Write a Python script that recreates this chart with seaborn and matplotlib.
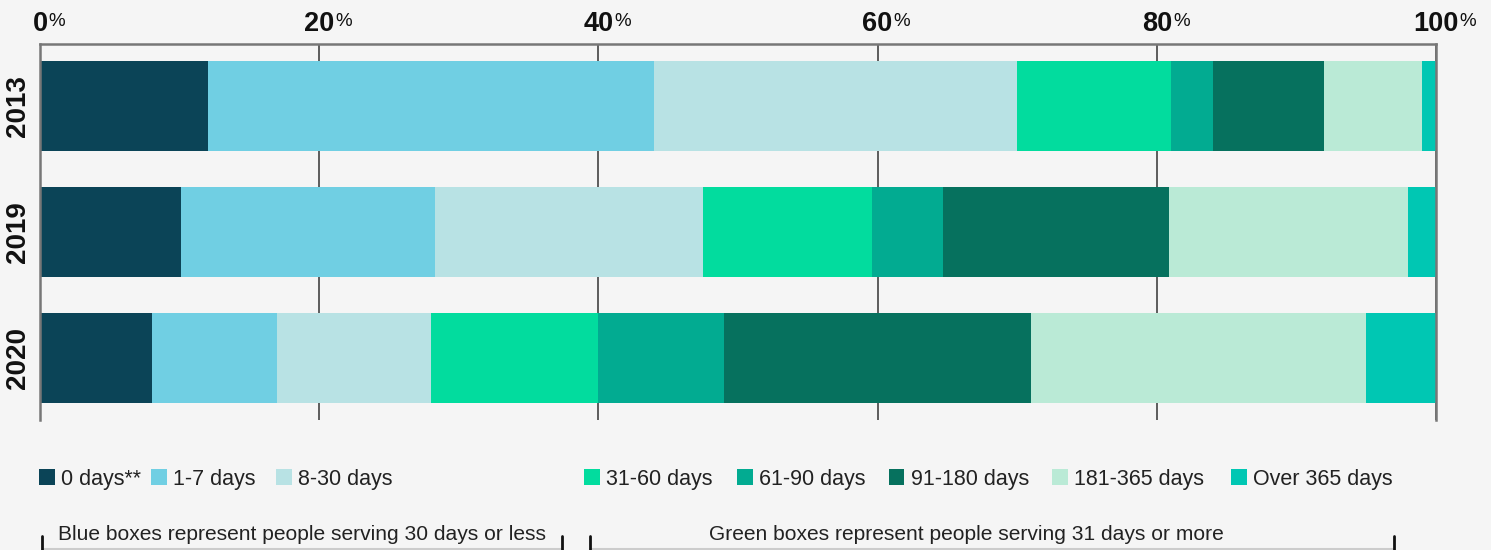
import matplotlib
matplotlib.use("Agg")
import matplotlib.pyplot as plt
from matplotlib.patches import Patch
from matplotlib.lines import Line2D
import numpy as np
import seaborn as sns

# ---- data -------------------------------------------------------------
years = ["2013", "2019", "2020"]
categories = ["0 days**", "1-7 days", "8-30 days", "31-60 days", "61-90 days",
              "91-180 days", "181-365 days", "Over 365 days"]
share_2013 = [12, 32, 26, 11, 3, 8, 7, 1]
share_2019 = [10.1, 18.2, 19.2, 12.1, 5.1, 16.2, 17.1, 2.0]
share_2020 = [8, 9, 11, 12, 9, 22, 24, 5]
tick_values = [0, 20, 40, 60, 80, 100]
note_short = "Blue boxes represent people serving 30 days or less"
note_long = "Green boxes represent people serving 31 days or more"

colors = ["#0B4457", "#70CFE3", "#B8E2E4", "#02DC9E",
          "#02AB91", "#06715E", "#BAEAD6", "#00C7B3"]

# ---- style ------------------------------------------------------------
BG = "#F5F5F5"
sns.set_style("white", {"axes.facecolor": BG, "figure.facecolor": BG})
plt.rcParams["font.family"] = ["Liberation Sans", "DejaVu Sans"]

W, H = 1491, 550
fig = plt.figure(figsize=(W / 100, H / 100), dpi=100)
fig.patch.set_facecolor(BG)


def fx(x):
    return x / W


def fy(y):
    return 1 - y / H


ax = fig.add_axes([fx(40), fy(420), fx(1436) - fx(40), fy(44) - fy(420)])
ax.set_facecolor(BG)

# stacked horizontal bars: draw cumulative totals, longest first
shares = np.array([share_2013, share_2019, share_2020], dtype=float)
cum = np.cumsum(shares, axis=1)
for i in reversed(range(len(categories))):
    sns.barplot(x=cum[:, i], y=years, orient="h", color=colors[i],
                saturation=1, width=0.714, ax=ax, zorder=2,
                linewidth=0, edgecolor="none")

ax.set_xlim(0, 100)
ax.set_ylim(2.49, -0.49)
ax.set_xlabel("")
ax.set_ylabel("")

# grid / frame
ax.set_axisbelow(True)
ax.set_xticks(tick_values)
ax.xaxis.grid(True, color="#333333", lw=1.1, zorder=0)
ax.yaxis.grid(False)
for side in ["top", "left", "right"]:
    ax.spines[side].set_visible(True)
    ax.spines[side].set_color("#777777")
    ax.spines[side].set_linewidth(1.8)
ax.spines["bottom"].set_visible(False)

# top tick labels with superscript percent sign
ax.xaxis.tick_top()
ax.tick_params(axis="x", length=0, pad=5)
ax.set_xticklabels([str(v) for v in tick_values], fontsize=19.5,
                   fontweight="bold", color="#111111")
for lab in ax.get_xticklabels():
    ax.annotate("%", xy=(1, 1), xycoords=lab, xytext=(0.8, -1.5),
                textcoords="offset points", ha="left", va="top",
                fontsize=13.5, color="#111111")

ax.tick_params(axis="y", length=0, pad=6.5)
ax.set_yticks(range(len(years)))
ax.set_yticklabels(years, rotation=90, va="center", fontsize=20,
                   fontweight="bold", color="#111111")

# legend entries, one per category, placed along a single row
handles = [Patch(facecolor=c, edgecolor="none") for c in colors]
legend_x = [39, 151, 276, 584, 737, 889, 1052, 1231]
for h, lab, x in zip(handles, categories, legend_x):
    leg = fig.legend([h], [lab], loc="center left", frameon=False,
                     fontsize=15.5, handlelength=0.72, handleheight=0.72,
                     handletextpad=0.3, borderpad=0, borderaxespad=0,
                     labelcolor="#222222",
                     bbox_to_anchor=(fx(x), fy(479)))


# brackets with explanatory notes
def bracket(x0, x1, text, tx):
    fig.add_artist(Line2D([fx(x0), fx(x1)], [fy(549), fy(549)],
                          color="#cccccc", lw=1.5))
    for xx in (x0, x1):
        fig.add_artist(Line2D([fx(xx), fx(xx)], [fy(536), fy(551)],
                              color="#111111", lw=2))
    fig.text(fx(tx), fy(535), text, ha="center", va="center",
             fontsize=15.1, color="#222222")


bracket(42, 562, note_short, 302)
bracket(590, 1394, note_long, 966)

fig.savefig("out.png", dpi=100, facecolor=BG)
